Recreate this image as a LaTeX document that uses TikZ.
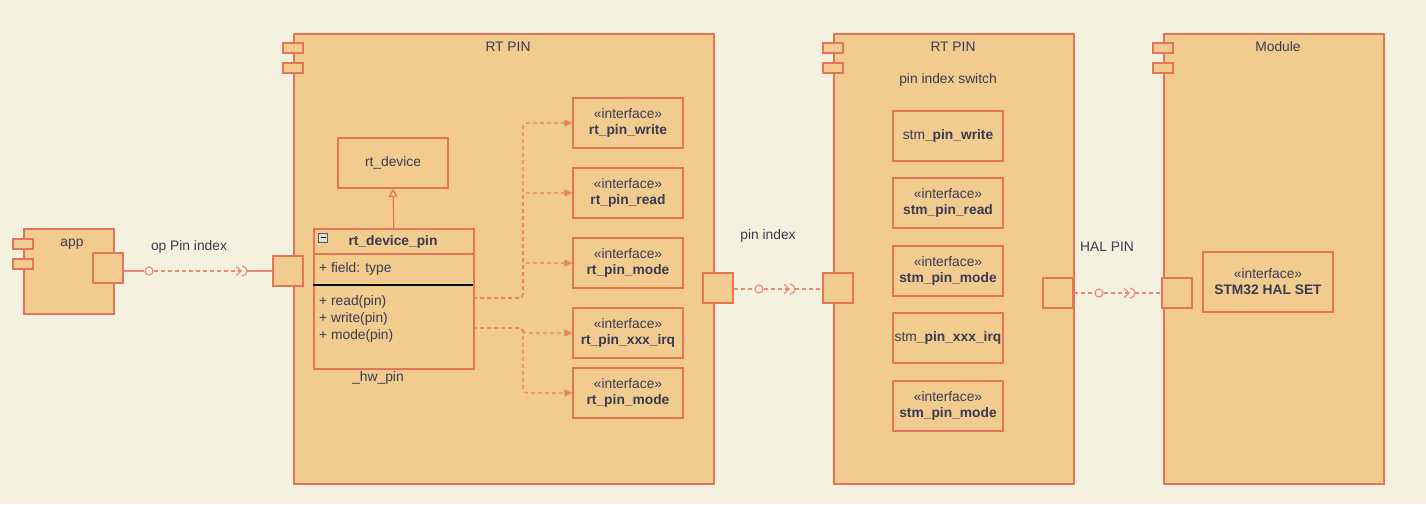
\documentclass[tikz,border=0pt]{standalone}
\usepackage{fontspec}
\setmainfont{Liberation Sans}
\usetikzlibrary{arrows.meta,calc}
\definecolor{bg}{RGB}{245,241,223}
\definecolor{modfill}{RGB}{242,203,143}
\definecolor{edge}{RGB}{230,116,88}
\definecolor{txt}{RGB}{58,58,82}
\begin{document}
\begin{tikzpicture}[x=1pt,y=-1pt,
  font=\fontsize{13.8}{16}\selectfont, text=txt,
  comp/.style={draw=edge, fill=modfill, line width=1.5pt, anchor=north west, inner sep=0pt},
  tab/.style={draw=edge, fill=modfill, line width=1.5pt, minimum width=20pt, minimum height=10pt, inner sep=0pt},
  port/.style={draw=edge, fill=modfill, line width=1.5pt, minimum size=30pt, inner sep=0pt},
  box/.style={draw=edge, fill=modfill, line width=1.5pt, minimum width=110pt, minimum height=50pt, inner sep=0pt, align=center},
  lbl/.style={inner sep=0pt, text=txt},
  dep/.style={draw=edge!90, line width=1.1pt, dash pattern=on 4pt off 3pt, -{Triangle[length=8pt,width=7pt]}},
  lnk/.style={draw=edge!85, line width=1.1pt},
  lolli/.style={draw=edge!85, line width=1.1pt, circle, minimum size=8pt, inner sep=0pt},
]
\useasboundingbox (0,0) rectangle (1426,504);
\fill[bg] (0,0) rectangle (1426,504);

% ---------- app ----------
\node[comp, minimum width=90pt, minimum height=85pt] (app) at (23,228) {};
\node[tab] (appt1) at (23,244) {};
\node[tab] (appt2) at (23,264) {};
\node[lbl] (appl) at (72,244) {app};
\node[port] (appp) at (108,268) {};

% ---------- RT PIN 1 ----------
\node[comp, minimum width=420pt, minimum height=450pt] (rt1) at (293,33) {};
\node[tab] (rt1t1) at (293,48) {};
\node[tab] (rt1t2) at (293,68) {};
\node[lbl] (rt1l) at (508,47) {RT PIN};
\node[port] (rt1p) at (288,271) {};
\node[port] (rt1q) at (718,288) {};

\node[box, minimum width=110pt] (dev) at (393,163) {rt\_device};

% class
\node[draw=edge, fill=modfill, line width=1.5pt, anchor=north west, minimum width=160pt, minimum height=140pt, inner sep=0pt] (cls) at (313,228) {};
\draw[edge, line width=1.3pt] (313,254) -- (473,254);
\draw[black, line width=1.1pt] (313,285) -- (473,285);
\node[draw=gray!70!black, fill=gray!25, line width=0.5pt, minimum size=9pt, inner sep=0pt] (mini) at (323,237.5) {};
\draw[black, line width=1pt] (320.5,237.5) -- (325.5,237.5);
\node[lbl, font=\fontsize{13.8}{16}\selectfont\bfseries] (clsn) at (393,242) {rt\_device\_pin};
\node[lbl, anchor=west] (fld) at (319,269) {+ field: type};
\node[lbl, anchor=west] (m1t) at (319,302) {+ read(pin)};
\node[lbl, anchor=west] (m2t) at (319,319) {+ write(pin)};
\node[lbl, anchor=west] (m3t) at (319,336) {+ mode(pin)};
\node[lbl] (hw) at (378,378) {\_hw\_pin};

\draw[edge, line width=1.2pt, -{Triangle[open,length=8pt,width=9pt,fill=modfill]}] (cls.north) -- (dev.south);

% interfaces
\node[box] (i1) at (628,123) {«interface»\\[0pt]\textbf{rt\_pin\_write}};
\node[box] (i2) at (628,193) {«interface»\\[0pt]\textbf{rt\_pin\_read}};
\node[box] (i3) at (628,263) {«interface»\\[0pt]\textbf{rt\_pin\_mode}};
\node[box] (i4) at (628,333) {«interface»\\[0pt]\textbf{rt\_pin\_xxx\_irq}};
\node[box] (i5) at (628,393) {«interface»\\[0pt]\textbf{rt\_pin\_mode}};

\coordinate (c1) at (473,298);
\coordinate (c2) at (473,328);
\coordinate (j1) at (523,298);
\coordinate (j2) at (523,328);
\draw[dep, rounded corners=4pt] (c1) -- (j1) |- (i1.west);
\draw[dep, rounded corners=4pt] (c1) -- (j1) |- (i2.west);
\draw[dep, rounded corners=4pt] (c1) -- (j1) |- (i3.west);
\draw[dep, rounded corners=4pt] (c2) -- (j2) |- (i4.west);
\draw[dep, rounded corners=4pt] (c2) -- (j2) |- (i5.west);

% ---------- RT PIN 2 ----------
\node[comp, minimum width=240pt, minimum height=450pt] (rt2) at (833,33) {};
\node[tab] (rt2t1) at (833,48) {};
\node[tab] (rt2t2) at (833,68) {};
\node[lbl] (rt2l) at (953,47) {RT PIN};
\node[lbl] (rt2s) at (948,80) {pin index switch};
\node[port] (rt2p) at (838,288) {};
\node[port] (rt2q) at (1058,293) {};

\node[box] (s1) at (948,136) {stm\textbf{\_pin\_write}};
\node[box] (s2) at (948,203) {«interface»\\[0pt]\textbf{stm\_pin\_read}};
\node[box] (s3) at (948,271) {«interface»\\[0pt]\textbf{stm\_pin\_mode}};
\node[box] (s4) at (948,338) {stm\textbf{\_pin\_xxx\_irq}};
\node[box] (s5) at (948,406) {«interface»\\[0pt]\textbf{stm\_pin\_mode}};

% ---------- Module ----------
\node[comp, minimum width=220pt, minimum height=450pt] (mod) at (1163,33) {};
\node[tab] (modt1) at (1163,48) {};
\node[tab] (modt2) at (1163,68) {};
\node[lbl] (modl) at (1278,47) {Module};
\node[port] (modp) at (1177,293) {};
\node[box, minimum width=130pt, minimum height=60pt] (hal) at (1268,282) {«interface»\\[0pt]\textbf{STM32 HAL SET}};

% ---------- links ----------
% app -> RT PIN
\node[lolli] (o1) at (149,271) {};
\coordinate (k1) at (242,271);
\draw[lnk] (appp.east |- o1) -- (o1.west);
\draw[lnk, dash pattern=on 4pt off 3pt, -{Straight Barb[length=5pt,width=9pt]}] (o1.east) -- (k1);
\draw[lnk] (k1) ++(0pt,-5pt) arc[start angle=-90,end angle=90,radius=5pt];
\draw[lnk] ($(k1)+(5,0)$) -- (rt1p.west);
\node[lbl] (l1) at (189,247) {op Pin index};

% RT PIN -> RT PIN
\node[lolli] (o2) at (759,289) {};
\coordinate (k2) at (790,289);
\draw[lnk, dash pattern=on 4pt off 3pt] (rt1q.east |- o2) -- (o2.west);
\draw[lnk, dash pattern=on 4pt off 3pt, -{Straight Barb[length=5pt,width=9pt]}] (o2.east) -- (k2);
\draw[lnk] (k2) ++(0pt,-5pt) arc[start angle=-90,end angle=90,radius=5pt];
\draw[lnk, dash pattern=on 4pt off 3pt] ($(k2)+(5,0)$) -- (rt2p.west |- o2);
\node[lbl] (l2) at (768,236) {pin index};

% RT PIN -> Module
\node[lolli] (o3) at (1099,293) {};
\coordinate (k3) at (1130,293);
\draw[lnk, dash pattern=on 4pt off 3pt] (rt2q.east) -- (o3.west);
\draw[lnk, dash pattern=on 4pt off 3pt, -{Straight Barb[length=5pt,width=9pt]}] (o3.east) -- (k3);
\draw[lnk] (k3) ++(0pt,-5pt) arc[start angle=-90,end angle=90,radius=5pt];
\draw[lnk, dash pattern=on 4pt off 3pt] ($(k3)+(5,0)$) -- (modp.west);
\node[lbl] (l3) at (1107,247) {HAL PIN};
\end{tikzpicture}
\end{document}
